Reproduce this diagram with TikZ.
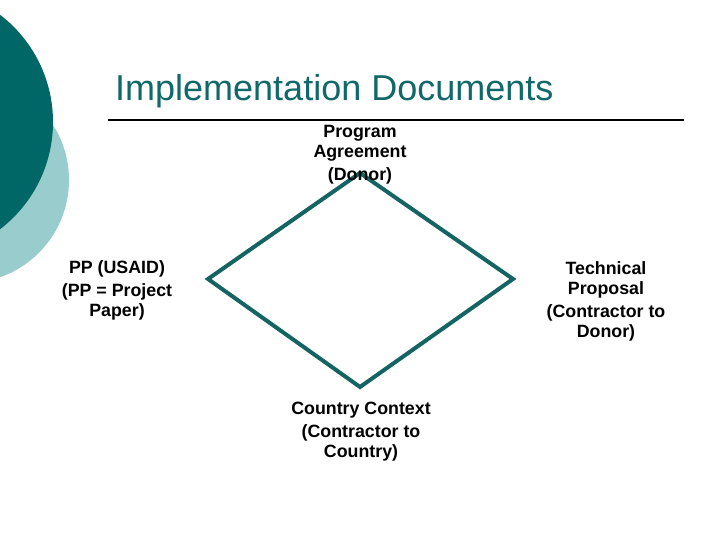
\documentclass[tikz,border=0pt]{standalone}
\usepackage{fontspec}
\setmainfont{Liberation Sans}
\definecolor{darkteal}{RGB}{0,102,102}
\definecolor{lightteal}{RGB}{153,204,204}
\definecolor{titleteal}{RGB}{16,104,104}
\definecolor{diamondteal}{RGB}{20,100,100}
\tikzset{
  lbl/.style={font=\bfseries\fontsize{17.8}{20}\selectfont, align=center, inner sep=0pt, anchor=base},
  rim/.style={draw=diamondteal, line width=4pt, line join=miter}
}
\begin{document}
\begin{tikzpicture}[x=1pt,y=-1pt]
\useasboundingbox (0,0) rectangle (720,540);
\clip (0,0) rectangle (720,540);
% decorative circles
\fill[lightteal] (-34,180) circle[radius=103];
\fill[darkteal] (-82,122) circle[radius=135];
% title
\node[font=\fontsize{36}{40}\selectfont, text=titleteal, anchor=base west, inner sep=0pt] (title) at (115,101) {Implementation Documents};
\coordinate (rulestart) at (108,120);
\coordinate (ruleend) at (684,120);
\draw[line width=2pt] (rulestart) -- (ruleend);
% diamond
\coordinate (dt) at (360,173);
\coordinate (dr) at (513,279);
\coordinate (db) at (360,387);
\coordinate (dl) at (208,279);
\draw[rim] (dt) -- (dr) -- (db) -- (dl) -- cycle;
% labels (anchor base = baseline of the last line)
\node[lbl] (prog) at (360,181) {Program\\Agreement\\[3pt](Donor)};
\node[lbl] (pp) at (117,316) {PP (USAID)\\[3pt](PP = Project\\Paper)};
\node[lbl] (tech) at (606,337) {Technical\\Proposal\\[3pt](Contractor to\\Donor)};
\node[lbl] (country) at (361,457) {Country Context\\[3pt](Contractor to\\Country)};
\end{tikzpicture}
\end{document}
